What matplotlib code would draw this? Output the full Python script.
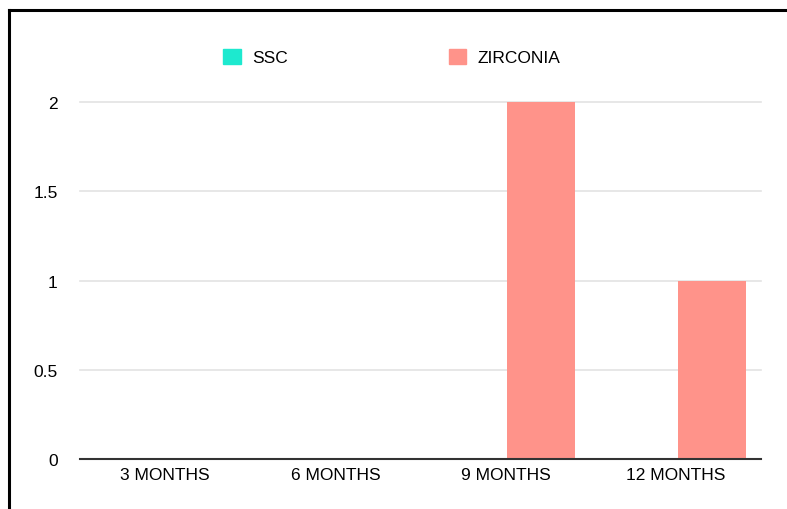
import numpy as np
import matplotlib
matplotlib.use("Agg")
import matplotlib.pyplot as plt
from matplotlib.lines import Line2D
from matplotlib.patches import Patch

plt.rcParams['font.family'] = ['Liberation Sans', 'DejaVu Sans']

categorias = ["3 MONTHS", "6 MONTHS", "9 MONTHS", "12 MONTHS"]
ssc = [0, 0, 0, 0]
zirconia = [0, 0, 2, 1]
series = ["SSC", "ZIRCONIA"]
colores = ["#1de9cf", "#ff938a"]
yticks = [0, 0.5, 1, 1.5, 2]

fig = plt.figure(figsize=(7.87, 5.10), dpi=100)
ax = fig.add_axes([80 / 787, 1 - 460 / 510, 681 / 787, 357 / 510])

x = np.arange(len(categorias))
ancho = 0.4
ax.bar(x - 0.21, ssc, ancho, color=colores[0], zorder=3)
ax.bar(x + 0.21, zirconia, ancho, color=colores[1], zorder=3)

ax.set_xlim(-0.5, len(categorias) - 0.5)
ax.set_ylim(0, 2)
ax.set_xticks(x)
ax.set_xticklabels(categorias, fontsize=12.5)
ax.set_yticks(yticks)
ax.set_yticklabels(["0", "0.5", "1", "1.5", "2"], fontsize=12.5)
ax.tick_params(axis='both', length=0)
ax.tick_params(axis='x', pad=6)
ax.tick_params(axis='y', pad=16)

for s in ax.spines.values():
    s.set_visible(False)
ax.yaxis.grid(True, color="#e3e3e3", linewidth=1.2, zorder=0)
for line in ax.get_ygridlines():
    line.set_clip_on(False)
ax.axhline(0, color="#333333", linewidth=1.5, zorder=4, clip_on=False)

handles = [Patch(color=c) for c in colores]
fig.legend(handles, series, loc='center', bbox_to_anchor=(0.498, 1 - 58 / 510),
           ncol=2, frameon=False, fontsize=12.5, handlelength=1.0, handleheight=1.0,
           handletextpad=0.65, columnspacing=9.3)

# marco negro
fig.add_artist(Line2D([9 / 787, 9 / 787], [0, 1 - 11 / 510], color="black",
                      linewidth=2.2, transform=fig.transFigure))
fig.add_artist(Line2D([9 / 787, 1], [1 - 11 / 510, 1 - 11 / 510], color="black",
                      linewidth=2.2, transform=fig.transFigure))

fig.savefig("out.png", dpi=100)
